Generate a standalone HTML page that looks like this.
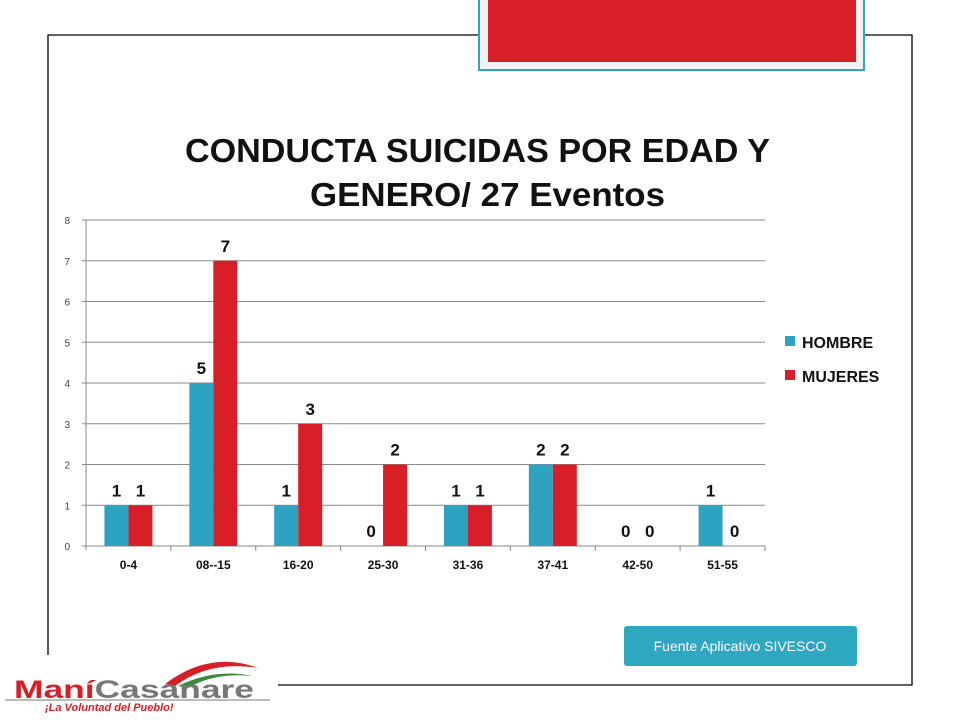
<!DOCTYPE html>
<html><head><meta charset="utf-8"><style>
body{margin:0;background:#fff;width:960px;height:720px;overflow:hidden;position:relative;font-family:"Liberation Sans",sans-serif}
</style></head><body>
<svg width="960" height="720" style="position:absolute;left:0;top:0">
<g stroke="#000" stroke-width="1.3" fill="none">
<polyline points="48,655 48,35 478,35"/>
<polyline points="865,35 912,35 912,685 278,685"/>
</g>
<g>
<rect x="479" y="-2" width="385" height="72" fill="#f2f2f2" stroke="#2ea7c0" stroke-width="2"/>
<rect x="488" y="0" width="368" height="62" fill="#d81f27"/>
</g>
<text x="185" y="162" font-size="33" font-weight="bold" textLength="585" lengthAdjust="spacingAndGlyphs" fill="#111">CONDUCTA SUICIDAS POR EDAD Y</text>
<text x="310" y="206" font-size="33" font-weight="bold" textLength="355" lengthAdjust="spacingAndGlyphs" fill="#111">GENERO/ 27 Eventos</text>
<g id="chart"></g>
<g>
<rect x="785" y="336" width="10" height="10" fill="#2ea3c1"/>
<text x="802" y="348" font-size="16" font-weight="bold" fill="#111">HOMBRE</text>
<rect x="785" y="370" width="10" height="10" fill="#d81f27"/>
<text x="802" y="382" font-size="16" font-weight="bold" fill="#111">MUJERES</text>
</g>
<g>
<rect x="624" y="626" width="233" height="40" rx="3" fill="#2ea7c0"/>
<text x="740" y="651" font-size="14" fill="#fff" text-anchor="middle">Fuente Aplicativo SIVESCO</text>
</g>
<g>
<path d="M165,684 Q210,650 258,668 Q210,660 175,686 Z" fill="#d81f27"/>
<path d="M178,686 Q215,668 252,676 Q215,672 188,688 Z" fill="#3a8a3a"/>
<text x="14" y="698" font-size="25" font-weight="bold" textLength="240" lengthAdjust="spacingAndGlyphs" fill="#d81f27">Maní<tspan fill="#777">Casanare</tspan></text>
<line x1="5" y1="700" x2="270" y2="700" stroke="#bbb" stroke-width="2"/>
<text x="45" y="711" font-size="11" font-weight="bold" font-style="italic" fill="#d81f27">¡La Voluntad del Pueblo!</text>
</g>
</svg>
<script>
const categories=["0-4","08--15","16-20","25-30","31-36","37-41","42-50","51-55"];
const hombre=[1,4,1,0,1,2,0,1];
const mujeres=[1,7,3,2,1,2,0,0];
const hombreLabels=["1","5","1","0","1","2","0","1"];
const mujeresLabels=["1","7","3","2","1","2","0","0"];
const yTicks=[0,1,2,3,4,5,6,7,8];
const X0=86,X1=765,Y0=546,Y1=220,YMAX=8;
const cw=(X1-X0)/categories.length;
const y=v=>Y0-(v/YMAX)*(Y0-Y1);
const xc=i=>X0+cw*(i+0.5);
const g=document.getElementById('chart');
const NS='http://www.w3.org/2000/svg';
function mk(t,a){const e=document.createElementNS(NS,t);for(const k in a)e.setAttribute(k,a[k]);g.appendChild(e);return e;}
yTicks.forEach(v=>{
 const l=mk('line',{x1:X0-4,x2:X1,y1:y(v),y2:y(v),stroke:v===0?'#888':'#8a8a8a','stroke-width':1});
 
 
 const t=mk('text',{x:70,y:y(v)+4,'font-size':10,'text-anchor':'end',fill:'#444'});t.textContent=v;
 
 
});
const ax=mk('line',{x1:X0,x2:X0,y1:Y1,y2:Y0+4,stroke:'#888'});


categories.forEach((c,i)=>{
 const tk=mk('line',{x1:X0+cw*(i+1),x2:X0+cw*(i+1),y1:Y0,y2:Y0+5,stroke:'#888'});
 
 
 const t=mk('text',{x:xc(i),y:Y0+23,'font-size':12,'font-weight':'bold','text-anchor':'middle',fill:'#111'});t.textContent=c;
 
 
 const bw=24;
 [[hombre,'#2ea3c1',-bw,hombreLabels,'hombre'],[mujeres,'#d81f27',0,mujeresLabels,'mujeres']].forEach(([s,col,off,lab,nm])=>{
  const r=mk('rect',{x:xc(i)+off,y:y(s[i]),width:bw,height:Y0-y(s[i]),fill:col});
  
  
  const lt=mk('text',{x:xc(i)+off+bw/2,y:y(s[i])-9,'font-size':17,'font-weight':'bold','text-anchor':'middle',fill:'#111'});lt.textContent=lab[i];
  
  
 });
});
</script>
</body></html>
